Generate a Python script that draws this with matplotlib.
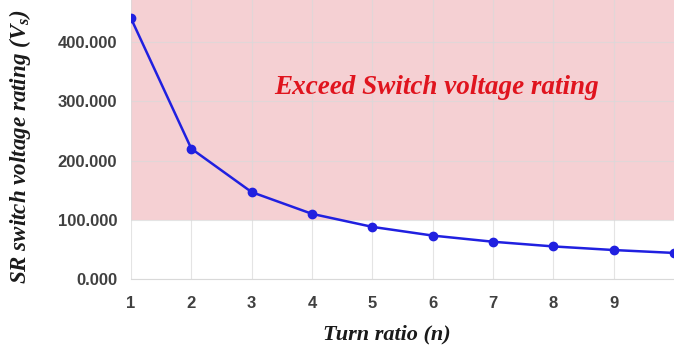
import matplotlib
matplotlib.use("Agg")
import matplotlib.pyplot as plt

plt.rcParams["mathtext.fontset"] = "custom"
plt.rcParams["mathtext.it"] = "Liberation Serif:italic:bold"
plt.rcParams["mathtext.rm"] = "Liberation Serif:bold"

turn_ratio = [1, 2, 3, 4, 5, 6, 7, 8, 9, 10]
voltage_rating = [440, 220, 146.7, 110, 88, 73.3, 62.9, 55, 48.9, 44]
x_ticks = [1, 2, 3, 4, 5, 6, 7, 8, 9]
y_ticks = [0, 100, 200, 300, 400]
limit = 100

fig = plt.figure(figsize=(6.74, 3.48), dpi=100)
ax = fig.add_axes([131/674, 1 - 279/348, 1 - 131/674, 279/348])
ax.set_xlim(1, 10)
ax.set_ylim(0, 471)

ax.axhspan(limit, 471, color="#f5d0d3", zorder=0, lw=0)
ax.set_xticks(x_ticks)
ax.set_yticks(y_ticks)
ax.grid(True, color="#d9d9d9", lw=0.8, alpha=0.7, zorder=1)
ax.set_axisbelow(True)
for s in ["top", "right", "left"]:
    ax.spines[s].set_visible(False)
ax.spines["bottom"].set_color("#d9d9d9")
ax.tick_params(length=0)
ax.tick_params(axis="y", pad=10)
ax.tick_params(axis="x", pad=12)
ax.set_yticklabels([f"{v:.3f}" for v in y_ticks], fontsize=12, fontweight="bold",
                   color="#404040", family="Liberation Sans")
ax.set_xticklabels([str(v) for v in x_ticks], fontsize=12, fontweight="bold",
                   color="#404040", family="Liberation Sans")

ax.plot(turn_ratio, voltage_rating, color="#2020e0", lw=1.8, marker="o",
        ms=6, zorder=3, clip_on=True)

ax.text(6.07, 324, "Exceed Switch voltage rating", color="#e0141e",
        fontsize=19.5, fontweight="bold", style="italic", family="Liberation Serif",
        ha="center", va="center")

fig.text(387/674, 1 - 334/348, "Turn ratio (n)", fontsize=16,
         fontweight="bold", style="italic", family="Liberation Serif",
         ha="center", va="center", color="#1a1a1a")
fig.text(20/674, 1 - 284/348, "SR switch voltage rating (V$_{s}$)", rotation=90,
         fontsize=16.6, fontweight="bold", style="italic", family="Liberation Serif",
         ha="center", va="bottom", color="#1a1a1a")

fig.savefig("out.png", dpi=100)
